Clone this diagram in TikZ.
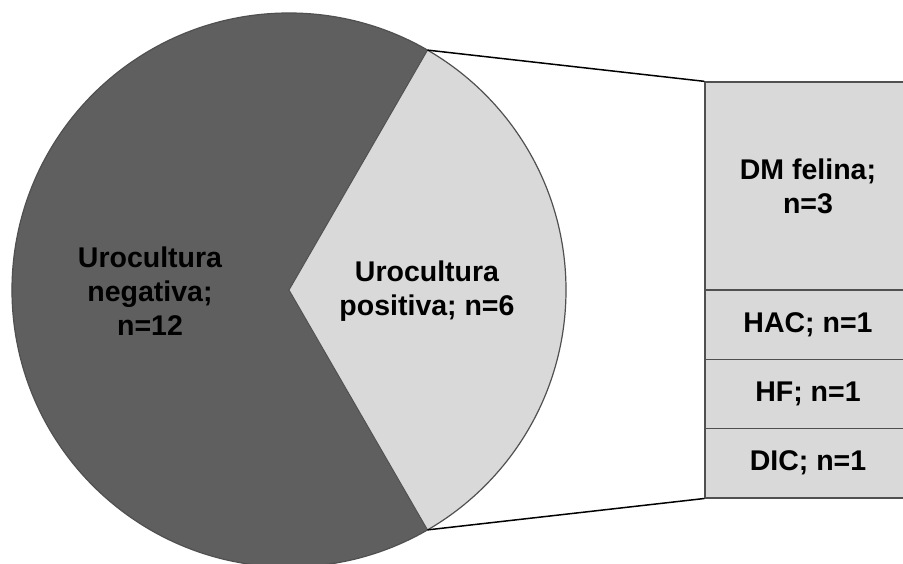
\documentclass[tikz,border=0pt]{standalone}
\usepackage{fontspec}
\setmainfont{Liberation Sans}
\usetikzlibrary{calc}
\definecolor{darkslice}{HTML}{5F5F5F}
\definecolor{lightslice}{HTML}{D9D9D9}
\definecolor{edgegray}{HTML}{505050}
\tikzset{
  lbl/.style={font=\fontsize{28.5}{34}\selectfont\bfseries, align=center, text=black},
  seg/.style={draw=edgegray, line width=1.3pt, fill=lightslice, minimum width=206pt, inner sep=0pt, lbl},
  link/.style={draw=black, line width=1.5pt}
}
\begin{document}
\begin{tikzpicture}[x=1pt,y=-1pt]
\useasboundingbox (0,0) rectangle (903,564);
\clip (0,0) rectangle (903,564);
\coordinate (C) at (289,290);
\coordinate (P1) at ($(C)+(-60:277)$);
\coordinate (P2) at ($(C)+(60:277)$);
% dark slice
\fill[darkslice] (C) -- (P2) arc[start angle=60, end angle=300, radius=277] -- cycle;
% light slice
\fill[lightslice] (C) -- (P1) arc[start angle=-60, end angle=60, radius=277] -- cycle;
\draw[edgegray, line width=1.2pt] (C) circle[radius=277];
\draw[edgegray, line width=1pt] (P1) -- (C) -- (P2);
% labels
\node[lbl] (neg) at (150,291) {Urocultura\\negativa;\\n=12};
\node[lbl] (pos) at (427,291) {Urocultura\\positiva; n=6};
% bar
\node[seg, minimum height=208pt] (dm) at (808,186) {DM felina;\\n=3};
\node[seg, minimum height=69.3pt] (hac) at (808,324.6) {HAC; n=1};
\node[seg, minimum height=69.3pt] (hf) at (808,393.9) {HF; n=1};
\node[seg, minimum height=69.3pt] (dic) at (808,463.2) {DIC; n=1};
% connectors
\draw[link] (P1) -- (dm.north west);
\draw[link] (P2) -- (dic.south west);
\end{tikzpicture}
\end{document}
